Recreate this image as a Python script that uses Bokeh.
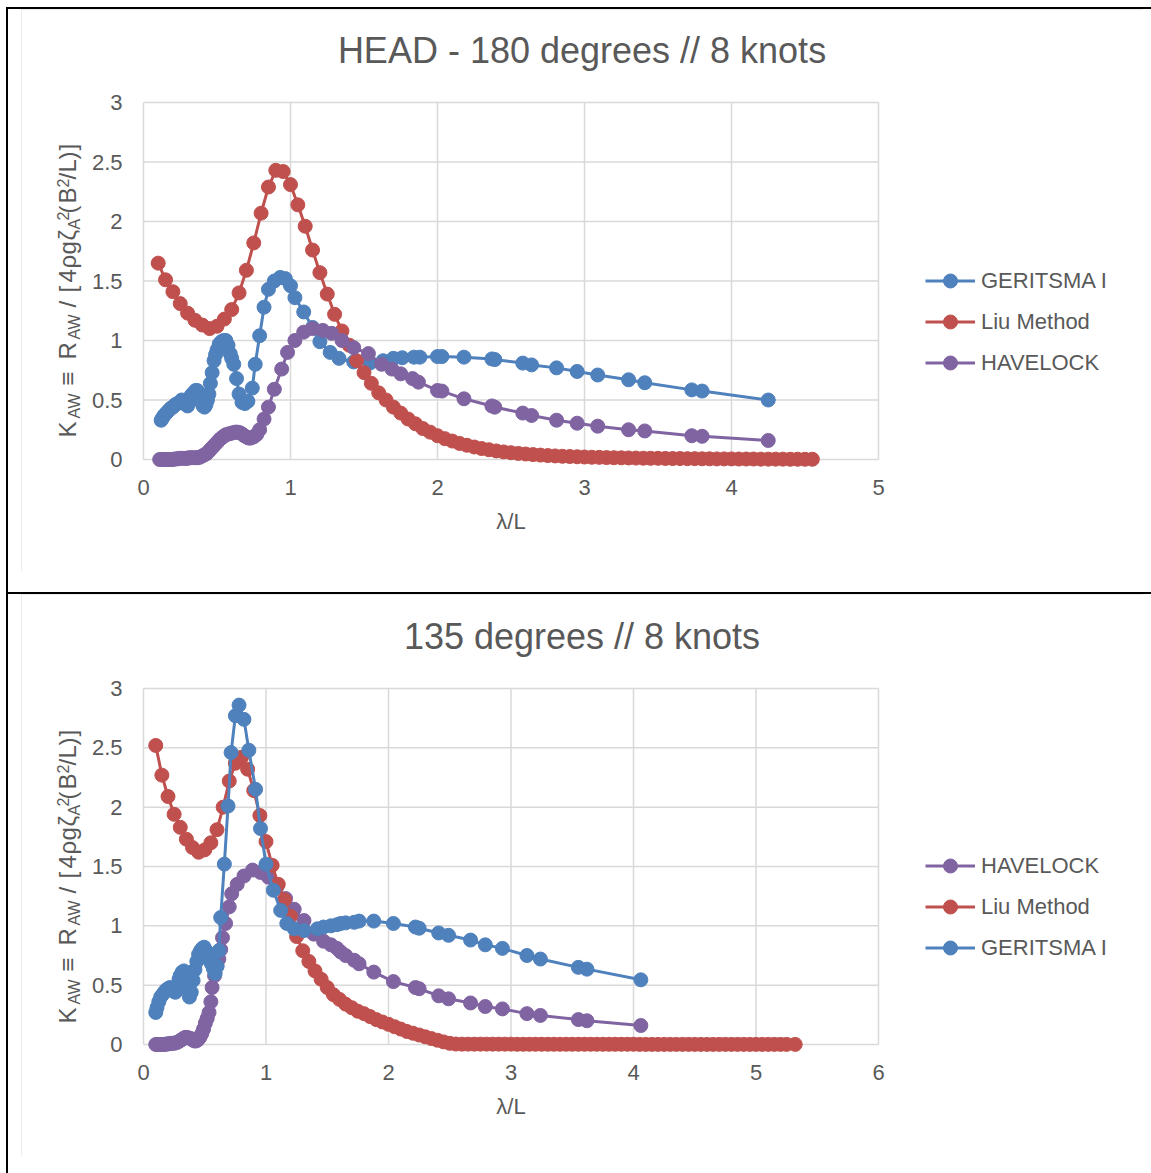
import math
from bokeh.plotting import figure
from bokeh.models import (Range1d, FixedTicker, CustomJSTickFormatter, Label,
                          Legend, LegendItem, Div)
from bokeh.layouts import column, row
from bokeh.embed import file_html
from bokeh.resources import INLINE

# ---------------- data ----------------
TITLE_1 = "HEAD - 180 degrees // 8 knots"
TITLE_2 = "135 degrees // 8 knots"
X_LABEL = "λ/L"
X1_TICKS = [0, 1, 2, 3, 4, 5]
X2_TICKS = [0, 1, 2, 3, 4, 5, 6]
Y_TICKS = [0, 0.5, 1, 1.5, 2, 2.5, 3]

# chart 1 : HEAD 180 deg
G1_X = [0.12, 0.13, 0.14, 0.155, 0.17, 0.185, 0.20, 0.215, 0.23, 0.245, 0.26, 0.275, 0.29, 0.30,
        0.31, 0.325, 0.34, 0.355, 0.365, 0.375, 0.385, 0.395, 0.405, 0.415, 0.425, 0.435, 0.445,
        0.455, 0.467, 0.48, 0.49, 0.50, 0.515, 0.53, 0.545, 0.56, 0.575, 0.59, 0.60, 0.614, 0.633,
        0.65, 0.67, 0.69, 0.71, 0.74, 0.76, 0.79, 0.82, 0.85, 0.89, 0.93, 0.965, 1.00, 1.03, 1.09,
        1.15, 1.20, 1.27, 1.33, 1.43, 1.54, 1.63, 1.70, 1.76, 1.84, 1.88, 2.00, 2.03, 2.18, 2.37,
        2.39, 2.58, 2.64, 2.81, 2.95, 3.09, 3.30, 3.41, 3.73, 3.80, 4.25]
G1_Y = [0.33, 0.35, 0.37, 0.39, 0.41, 0.43, 0.44, 0.46, 0.47, 0.48, 0.50, 0.48, 0.46, 0.45,
        0.50, 0.54, 0.56, 0.58, 0.58, 0.56, 0.52, 0.48, 0.45, 0.44, 0.46, 0.50, 0.55,
        0.64, 0.73, 0.83, 0.88, 0.92, 0.97, 0.99, 1.00, 1.00, 0.96, 0.89, 0.85, 0.80, 0.68,
        0.55, 0.48, 0.47, 0.49, 0.60, 0.80, 1.04, 1.28, 1.43, 1.50, 1.53, 1.52, 1.46, 1.36, 1.24,
        1.11, 0.99, 0.90, 0.85, 0.82, 0.81, 0.83, 0.85, 0.855, 0.86, 0.86, 0.865, 0.865, 0.86, 0.845,
        0.84, 0.81, 0.795, 0.77, 0.74, 0.71, 0.67, 0.645, 0.585, 0.575, 0.50]

H1_X = [0.11, 0.125, 0.14, 0.155, 0.17, 0.185, 0.20, 0.215, 0.23, 0.245, 0.26, 0.275, 0.29, 0.30,
        0.31, 0.325, 0.34, 0.355, 0.37, 0.385, 0.40, 0.415, 0.43, 0.445, 0.46,
        0.475, 0.49, 0.505, 0.52, 0.535, 0.55, 0.565, 0.58, 0.595, 0.61, 0.625,
        0.64, 0.655, 0.67, 0.685, 0.70, 0.715, 0.73, 0.75, 0.77, 0.79,
        0.82, 0.85, 0.89, 0.94, 0.98, 1.03, 1.09, 1.15, 1.22, 1.28,
        1.35, 1.43, 1.53, 1.62, 1.69, 1.75, 1.83, 1.87, 2.00, 2.03,
        2.18, 2.37, 2.39, 2.58, 2.64, 2.81, 2.95, 3.09, 3.30, 3.41,
        3.73, 3.80, 4.25]
H1_Y = [0.0, 0.0, 0.0, 0.0, 0.0, 0.0, 0.0, 0.005, 0.005, 0.01, 0.01, 0.01, 0.01, 0.01,
        0.015, 0.015, 0.015, 0.015, 0.015, 0.02, 0.03, 0.04, 0.05, 0.07, 0.09,
        0.11, 0.13, 0.15, 0.17, 0.185, 0.20, 0.21, 0.215, 0.22, 0.225, 0.23,
        0.23, 0.225, 0.215, 0.20, 0.19, 0.18, 0.18, 0.19, 0.21, 0.25,
        0.34, 0.44, 0.59, 0.76, 0.90, 1.00, 1.07, 1.10, 1.085, 1.06,
        1.00, 0.94, 0.89, 0.80, 0.76, 0.72, 0.68, 0.65, 0.58, 0.575,
        0.51, 0.45, 0.44, 0.39, 0.37, 0.33, 0.305, 0.28, 0.25, 0.24,
        0.20, 0.195, 0.16]

L1_X = [0.10, 0.15, 0.20, 0.25, 0.30, 0.35, 0.40, 0.45, 0.50, 0.55, 0.60, 0.65, 0.70, 0.75, 0.80,
        0.85, 0.90, 0.95, 1.00, 1.05, 1.10, 1.15, 1.20, 1.25, 1.30, 1.35, 1.40, 1.45, 1.50, 1.55,
        1.60, 1.65, 1.70, 1.75, 1.80, 1.85, 1.90, 1.95, 2.00, 2.05, 2.10, 2.15, 2.20, 2.25, 2.30,
        2.35, 2.40, 2.45, 2.50, 2.55, 2.60, 2.65, 2.70, 2.75, 2.80, 2.85, 2.90, 2.95, 3.00, 3.05,
        3.10, 3.15, 3.20, 3.25, 3.30, 3.35, 3.40, 3.45, 3.50, 3.55, 3.60, 3.65, 3.70, 3.75, 3.80,
        3.85, 3.90, 3.95, 4.00, 4.05, 4.10, 4.15, 4.20, 4.25, 4.30, 4.35, 4.40, 4.45, 4.50, 4.55]
L1_Y = [1.65, 1.51, 1.41, 1.31, 1.23, 1.17, 1.13, 1.10, 1.12, 1.18, 1.26, 1.40, 1.59, 1.82, 2.07,
        2.29, 2.43, 2.42, 2.31, 2.14, 1.96, 1.76, 1.57, 1.39, 1.22, 1.08, 0.96, 0.83, 0.73, 0.64,
        0.56, 0.50, 0.44, 0.39, 0.34, 0.30, 0.26, 0.23, 0.20, 0.175, 0.155, 0.135, 0.12, 0.105, 0.092,
        0.082, 0.072, 0.064, 0.057, 0.051, 0.046, 0.041, 0.037, 0.033, 0.030, 0.027, 0.025, 0.023, 0.021, 0.019,
        0.018, 0.016, 0.015, 0.014, 0.013, 0.012, 0.011, 0.010, 0.010, 0.009, 0.008, 0.008, 0.007, 0.007, 0.006,
        0.006, 0.005, 0.005, 0.005, 0.004, 0.004, 0.004, 0.003, 0.003, 0.003, 0.003, 0.002, 0.002, 0.002, 0.002]

# chart 2 : 135 deg
G2_X = [0.10, 0.11, 0.125, 0.14, 0.155, 0.17, 0.185, 0.20, 0.215, 0.23,
        0.245, 0.26, 0.275, 0.29, 0.30, 0.315, 0.33, 0.345, 0.36, 0.375,
        0.39, 0.405, 0.42, 0.435, 0.45, 0.465, 0.48, 0.495, 0.51, 0.525,
        0.54, 0.555, 0.57, 0.585, 0.60, 0.615, 0.63, 0.66, 0.69, 0.715,
        0.75, 0.78, 0.82, 0.86, 0.915, 0.955, 1.00, 1.06, 1.12, 1.17,
        1.23, 1.31, 1.42, 1.47, 1.53, 1.58, 1.61, 1.65, 1.72, 1.76,
        1.88, 2.04, 2.22, 2.25, 2.41, 2.49, 2.67, 2.79, 2.93, 3.13,
        3.24, 3.55, 3.62, 4.06]
G2_Y = [0.27, 0.31, 0.36, 0.40, 0.42, 0.44, 0.46, 0.47, 0.48, 0.47,
        0.45, 0.44, 0.49, 0.55, 0.58, 0.61, 0.62, 0.55, 0.46, 0.40,
        0.44, 0.54, 0.63, 0.70, 0.76, 0.79, 0.81, 0.82, 0.79, 0.75,
        0.71, 0.68, 0.64, 0.60, 0.66, 0.79, 1.07, 1.52, 2.01, 2.46,
        2.77, 2.86, 2.74, 2.48, 2.15, 1.82, 1.52, 1.30, 1.13, 1.02,
        0.975, 0.96, 0.975, 0.99, 1.00, 1.01, 1.02, 1.025, 1.03, 1.04,
        1.04, 1.02, 0.99, 0.98, 0.94, 0.92, 0.88, 0.84, 0.81, 0.75,
        0.72, 0.65, 0.635, 0.545]

H2_X = [0.10, 0.115, 0.13, 0.145, 0.16, 0.175, 0.19, 0.205, 0.22, 0.235,
        0.25, 0.265, 0.28, 0.295, 0.31, 0.325, 0.34, 0.355, 0.37, 0.385,
        0.40, 0.415, 0.43, 0.445, 0.46, 0.475, 0.49, 0.505, 0.52, 0.535,
        0.55, 0.56, 0.58, 0.60, 0.615, 0.63, 0.645, 0.67, 0.70, 0.72,
        0.765, 0.82, 0.89, 0.955, 1.02, 1.09, 1.16, 1.23, 1.31, 1.39,
        1.47, 1.53, 1.58, 1.61, 1.65, 1.72, 1.76, 1.88, 2.04, 2.22,
        2.25, 2.41, 2.49, 2.67, 2.79, 2.93, 3.13, 3.24, 3.55, 3.62,
        4.06]
H2_Y = [0.0, 0.0, 0.0, 0.0, 0.0, 0.0, 0.005, 0.005, 0.01, 0.01,
        0.01, 0.015, 0.02, 0.03, 0.04, 0.05, 0.06, 0.06, 0.055, 0.05,
        0.04, 0.03, 0.03, 0.04, 0.06, 0.09, 0.13, 0.18, 0.22, 0.27,
        0.36, 0.48, 0.58, 0.66, 0.72, 0.80, 0.90, 1.02, 1.16, 1.27,
        1.35, 1.42, 1.47, 1.45, 1.41, 1.33, 1.23, 1.14, 1.045, 0.93,
        0.87, 0.84, 0.81, 0.78, 0.75, 0.71, 0.68, 0.61, 0.53, 0.48,
        0.47, 0.41, 0.385, 0.35, 0.32, 0.30, 0.26, 0.245, 0.21, 0.20,
        0.16]

L2_X = [0.10, 0.15, 0.20, 0.25, 0.30, 0.35, 0.40, 0.45, 0.50, 0.55, 0.60, 0.65, 0.70, 0.75, 0.80,
        0.85, 0.90, 0.95, 1.00, 1.05, 1.10, 1.15, 1.20, 1.25, 1.30, 1.35, 1.40, 1.45, 1.50, 1.55,
        1.60, 1.65, 1.70, 1.75, 1.80, 1.85, 1.90, 1.95, 2.00, 2.05, 2.10, 2.15, 2.20, 2.25, 2.30,
        2.35, 2.40, 2.45, 2.50, 2.55, 2.60, 2.65, 2.70, 2.75, 2.80, 2.85, 2.90, 2.95, 3.00, 3.05,
        3.10, 3.15, 3.20, 3.25, 3.30, 3.35, 3.40, 3.45, 3.50, 3.55, 3.60, 3.65, 3.70, 3.75, 3.80,
        3.85, 3.90, 3.95, 4.00, 4.05, 4.10, 4.15, 4.20, 4.25, 4.30, 4.35, 4.40, 4.45, 4.50, 4.55,
        4.60, 4.65, 4.70, 4.75, 4.80, 4.85, 4.90, 4.95, 5.00, 5.05, 5.10, 5.15, 5.20, 5.25, 5.32]
L2_Y = [2.52, 2.27, 2.09, 1.94, 1.83, 1.73, 1.66, 1.62, 1.64, 1.70, 1.81, 2.00, 2.22, 2.37, 2.42,
        2.32, 2.14, 1.93, 1.71, 1.51, 1.35, 1.22, 1.08, 0.91, 0.79, 0.70, 0.62, 0.55, 0.48, 0.42,
        0.38, 0.34, 0.31, 0.28, 0.26, 0.235, 0.21, 0.19, 0.17, 0.15, 0.13, 0.11, 0.095, 0.08, 0.065,
        0.05, 0.036, 0.022, 0.01, 0.004, 0.003, 0.003, 0.003, 0.003, 0.003, 0.003, 0.003, 0.003, 0.003, 0.002,
        0.002, 0.002, 0.002, 0.002, 0.002, 0.002, 0.002, 0.002, 0.002, 0.002, 0.002, 0.002, 0.002, 0.002, 0.002,
        0.002, 0.002, 0.002, 0.002, 0.001, 0.001, 0.001, 0.001, 0.001, 0.001, 0.001, 0.001, 0.001, 0.001, 0.001,
        0.001, 0.001, 0.001, 0.001, 0.001, 0.001, 0.001, 0.001, 0.001, 0.001, 0.001, 0.001, 0.001, 0.001, 0.001]

# ---------------- style / layout ----------------
FONT = "Liberation Sans"
TXT = "#595959"
GRID = "#d9d9d9"
BLUE = "#4f81bd"
RED = "#c0504d"
PURPLE = "#8064a2"

CANVAS_LEFT = 21      # page x of chart area
CANVAS_W = 1122
CANVAS_H = 562
PLOT_X0 = 143         # page x of x = 0
PLOT_X1 = 878         # page x of last x tick

# y-axis title pieces: text, font px, start (page y, chart 1), glyph centre (page x)
MAIN_C, SUB_C, SUP_C = 66.5, 74, 62.5
YLAB = [("K", 24, 437, MAIN_C), ("AW", 16, 418, SUB_C), ("\u2261", 24, 385, MAIN_C),
        ("R", 24, 359, MAIN_C), ("AW", 16, 339, SUB_C), ("/", 24, 307, MAIN_C),
        ("[", 24, 292, MAIN_C), ("4", 24, 282, MAIN_C), ("\u03c1", 24, 268, MAIN_C),
        ("g", 24, 254, MAIN_C), ("\u03b6", 24, 240, MAIN_C), ("A", 16, 229, SUB_C),
        ("2", 16, 220, SUP_C), ("(", 24, 213, MAIN_C), ("B", 24, 203, MAIN_C),
        ("2", 16, 187, SUP_C), ("/", 24, 179, MAIN_C), ("L", 24, 172, MAIN_C),
        (")", 24, 159, MAIN_C), ("]", 24, 150, MAIN_C)]

fmt_code = "return String(tick)"


def build(title, x_ticks, canvas_top, y0_page, y3_page, page_dy, series):
    px_x = (PLOT_X1 - PLOT_X0) / x_ticks[-1]
    px_y = (y0_page - y3_page) / 3.0
    xs0 = (CANVAS_LEFT - PLOT_X0) / px_x
    xs1 = (CANVAS_LEFT + CANVAS_W - PLOT_X0) / px_x
    ys1 = (y0_page - canvas_top) / px_y
    ys0 = (y0_page - (canvas_top + CANVAS_H)) / px_y
    p = figure(frame_width=CANVAS_W, frame_height=CANVAS_H,
               x_range=Range1d(xs0, xs1), y_range=Range1d(ys0, ys1),
               min_border=0, min_border_left=0, min_border_right=0,
               min_border_top=0, min_border_bottom=0,
               output_backend="svg", toolbar_location=None, tools="",
               background_fill_color="white", border_fill_color="white",
               outline_line_color=None)
    p.grid.visible = False
    canvas_bottom = canvas_top + CANVAS_H

    # grid lines confined to the plot area
    x_end = x_ticks[-1]
    p.segment(x0=x_ticks, y0=[0] * len(x_ticks), x1=x_ticks, y1=[Y_TICKS[-1]] * len(x_ticks),
              line_color=GRID, line_width=1.5)
    p.segment(x0=[0] * len(Y_TICKS), y0=Y_TICKS, x1=[x_end] * len(Y_TICKS), y1=Y_TICKS,
              line_color=GRID, line_width=1.5)

    for ax, ticks in ((p.xaxis, x_ticks), (p.yaxis, Y_TICKS)):
        ax.ticker = FixedTicker(ticks=ticks)
        ax.formatter = CustomJSTickFormatter(code=fmt_code)
        ax.fixed_location = 0
        ax.bounds = (ticks[0], ticks[-1])
        ax.axis_line_color = None
        ax.major_tick_line_color = None
        ax.minor_tick_line_color = None
        ax.major_tick_out = 0
        ax.major_tick_in = 0
        ax.major_label_text_font = FONT
        ax.major_label_text_font_size = "22px"
        ax.major_label_text_color = TXT
    p.xaxis.major_label_standoff = 20
    p.yaxis.major_label_standoff = 21
    p.xaxis.axis_label = X_LABEL
    p.xaxis.axis_label_text_font = FONT
    p.xaxis.axis_label_text_font_size = "22px"
    p.xaxis.axis_label_text_font_style = "normal"
    p.xaxis.axis_label_text_color = TXT
    p.xaxis.axis_label_standoff = 11

    items = []
    for name, xs, ys, col in series:
        rl = p.line(xs, ys, line_color=col, line_width=3)
        rs = p.scatter(xs, ys, marker="circle", size=14, fill_color=col, line_color=col)
        items.append(LegendItem(label=name, renderers=[rl, rs]))
    leg = Legend(items=items, location=(925 - CANVAS_LEFT, 191), glyph_width=50, glyph_height=35,
                 spacing=6, label_standoff=6, padding=0, margin=0,
                 border_line_color=None, background_fill_alpha=0,
                 label_text_font=FONT, label_text_font_size="22px", label_text_color=TXT)
    p.add_layout(leg)

    p.add_layout(Label(x=581.5 - CANVAS_LEFT, y=canvas_bottom - (50 + page_dy),
                       x_units="screen", y_units="screen", text=title,
                       text_align="center", text_baseline="middle",
                       text_font=FONT, text_font_size="36px", text_color=TXT))

    for txt, size, ystart, cx in YLAB:
        p.add_layout(Label(x=cx - CANVAS_LEFT, y=canvas_bottom - (ystart + page_dy),
                           x_units="screen", y_units="screen", text=txt,
                           angle=math.pi / 2, text_align="left", text_baseline="middle",
                           text_font=FONT, text_font_size=f"{size}px", text_color=TXT))
    return p


p1 = build(TITLE_1, X1_TICKS, 9, 459, 102, 0,
           [("GERITSMA I", G1_X, G1_Y, BLUE),
            ("Liu Method", L1_X, L1_Y, RED),
            ("HAVELOCK", H1_X, H1_Y, PURPLE)])
p2 = build(TITLE_2, X2_TICKS, 594, 1044, 688, 586,
           [("HAVELOCK", H2_X, H2_Y, PURPLE),
            ("Liu Method", L2_X, L2_Y, RED),
            ("GERITSMA I", G2_X, G2_Y, BLUE)])

frame_css = {"outline": "2px solid #d9d9d9", "outline-offset": "-2px"}
p1.styles = frame_css
p2.styles = frame_css
p1.margin = (0, 0, 0, 13)
p2.margin = (0, 0, 0, 13)

black = {"background-color": "black"}
top_line = Div(text="", width=1145, height=2, styles=black, margin=(7, 0, 0, 6))
left_line = Div(text="", width=2, height=1164, styles=black, margin=(0, 0, 0, 6))
mid_line = Div(text="", width=1143, height=2, styles=black, margin=(21, 0, 0, 0))

inner = column(p1, mid_line, p2, spacing=0)
body = row(left_line, inner, spacing=0)
root = column(top_line, body, spacing=0)

open("out.html", "w").write(file_html(root, INLINE, title="Added resistance"))
